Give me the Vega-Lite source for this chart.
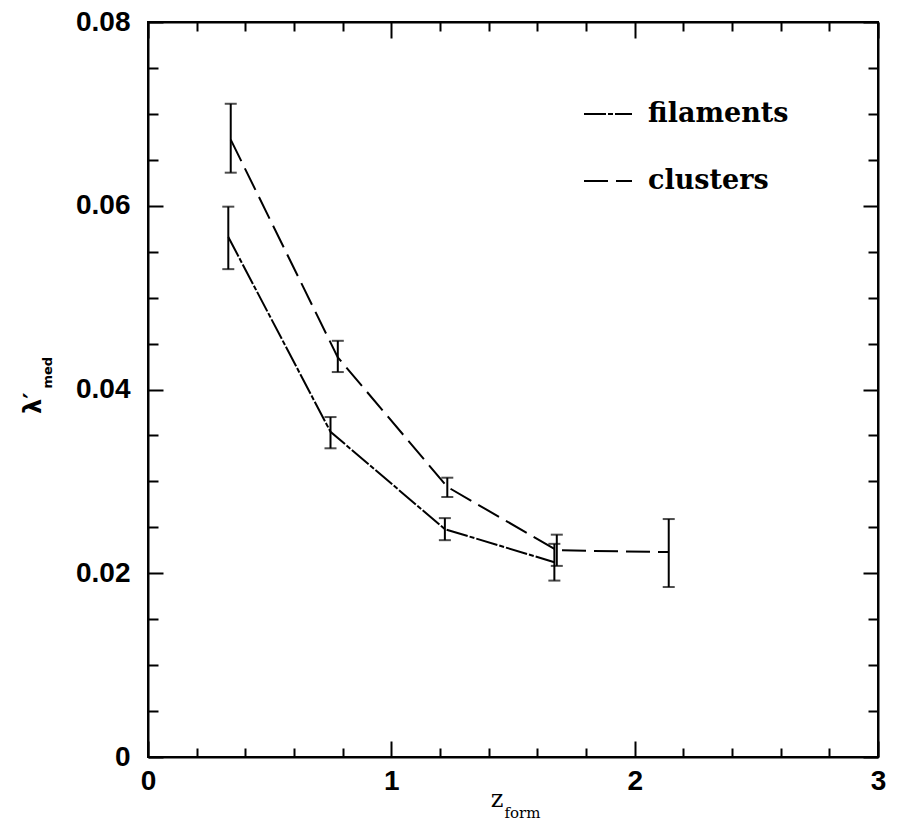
{
  "$schema": "https://vega.github.io/schema/vega-lite/v6.json",
  "autosize": {"type": "none"},
  "width": 730,
  "height": 735,
  "padding": {"left": 148, "top": 22, "right": 22, "bottom": 81},
  "background": "white",
  "config": {
    "view": {"stroke": "black", "strokeWidth": 2},
    "axis": {
      "domainColor": "black",
      "domainWidth": 2,
      "tickColor": "black",
      "tickWidth": 2,
      "labelColor": "black",
      "labelFont": "Liberation Sans",
      "labelFontWeight": "bold",
      "labelFontSize": 28,
      "labelOverlap": false,
      "labelFlush": false,
      "grid": false,
      "title": null
    },
    "legend": {
      "orient": "none",
      "legendX": 435,
      "legendY": 67,
      "symbolType": "stroke",
      "symbolSize": 2304,
      "symbolStrokeWidth": 2,
      "symbolStrokeColor": "black",
      "labelFont": "DejaVu Serif",
      "labelFontWeight": "bold",
      "labelFontSize": 27,
      "labelColor": "black",
      "labelOffset": 15,
      "rowPadding": 29,
      "title": null
    }
  },
  "datasets": {
    "pts": [
      {"series": "clusters", "z": 0.34, "lam": 0.0672, "lo": 0.0636, "hi": 0.0711},
      {"series": "clusters", "z": 0.78, "lam": 0.0435, "lo": 0.0419, "hi": 0.0453},
      {"series": "clusters", "z": 1.23, "lam": 0.0294, "lo": 0.0283, "hi": 0.0304},
      {"series": "clusters", "z": 1.68, "lam": 0.0225, "lo": 0.0208, "hi": 0.0242},
      {"series": "clusters", "z": 2.14, "lam": 0.0223, "lo": 0.0185, "hi": 0.0259},
      {"series": "filaments", "z": 0.33, "lam": 0.0566, "lo": 0.0531, "hi": 0.0599},
      {"series": "filaments", "z": 0.75, "lam": 0.0354, "lo": 0.0336, "hi": 0.037},
      {"series": "filaments", "z": 1.22, "lam": 0.0248, "lo": 0.0236, "hi": 0.026},
      {"series": "filaments", "z": 1.67, "lam": 0.0212, "lo": 0.0192, "hi": 0.0232}
    ],
    "one": [{}]
  },
  "layer": [
    {
      "data": {"name": "pts"},
      "mark": {"type": "line", "color": "black", "strokeWidth": 2},
      "encoding": {
        "x": {
          "field": "z", "type": "quantitative",
          "scale": {"domain": [0, 3], "nice": false, "zero": false},
          "axis": {
            "orient": "bottom",
            "values": [0, 0.2, 0.4, 0.6, 0.8, 1, 1.2, 1.4, 1.6, 1.8, 2, 2.2, 2.4, 2.6, 2.8, 3],
            "tickSize": {"condition": {"test": "abs(datum.value - round(datum.value)) < 1e-6", "value": -16}, "value": -9},
            "labelExpr": "abs(datum.value - round(datum.value)) < 1e-6 ? format(datum.value, 'd') : ''",
            "labelPadding": 26
          }
        },
        "y": {
          "field": "lam", "type": "quantitative",
          "scale": {"domain": [0, 0.08], "nice": false, "zero": false},
          "axis": {
            "orient": "left",
            "values": [0, 0.005, 0.01, 0.015, 0.02, 0.025, 0.03, 0.035, 0.04, 0.045, 0.05, 0.055, 0.06, 0.065, 0.07, 0.075, 0.08],
            "tickSize": {"condition": {"test": "abs(datum.value / 0.02 - round(datum.value / 0.02)) < 1e-6", "value": -15}, "value": -10},
            "labelExpr": "abs(datum.value / 0.02 - round(datum.value / 0.02)) < 1e-6 ? (datum.value < 1e-6 ? '0' : format(datum.value, '.2f')) : ''",
            "labelPadding": 33
          }
        },
        "strokeDash": {
          "field": "series", "type": "nominal",
          "scale": {"domain": ["filaments", "clusters"], "range": [[22, 2, 5, 2], [24, 8]]},
          "legend": {"symbolStrokeColor": "black"}
        },
        "order": {"field": "z", "type": "quantitative"}
      }
    },
    {
      "data": {"name": "pts"},
      "mark": {"type": "rule", "color": "black", "strokeWidth": 2},
      "encoding": {
        "x": {"field": "z", "type": "quantitative", "scale": {"domain": [0, 3], "nice": false, "zero": false}, "axis": null},
        "y": {"field": "lo", "type": "quantitative", "scale": {"domain": [0, 0.08], "nice": false, "zero": false}, "axis": null},
        "y2": {"field": "hi"}
      }
    },
    {
      "data": {"name": "pts"},
      "mark": {"type": "tick", "orient": "horizontal", "color": "black", "size": 12, "thickness": 2},
      "encoding": {
        "x": {"field": "z", "type": "quantitative", "scale": {"domain": [0, 3], "nice": false, "zero": false}, "axis": null},
        "y": {"field": "lo", "type": "quantitative", "scale": {"domain": [0, 0.08], "nice": false, "zero": false}, "axis": null}
      }
    },
    {
      "data": {"name": "pts"},
      "mark": {"type": "tick", "orient": "horizontal", "color": "black", "size": 12, "thickness": 2},
      "encoding": {
        "x": {"field": "z", "type": "quantitative", "scale": {"domain": [0, 3], "nice": false, "zero": false}, "axis": null},
        "y": {"field": "hi", "type": "quantitative", "scale": {"domain": [0, 0.08], "nice": false, "zero": false}, "axis": null}
      }
    },
    {
      "data": {"name": "one"},
      "mark": {"type": "text", "text": "z", "font": "DejaVu Serif", "fontSize": 24, "color": "black", "align": "center", "baseline": "middle", "clip": false},
      "encoding": {
        "x": {"datum": 1.435, "type": "quantitative", "scale": {"domain": [0, 3], "nice": false, "zero": false}, "axis": null},
        "y": {"datum": -0.0047, "type": "quantitative", "scale": {"domain": [0, 0.08], "nice": false, "zero": false}, "axis": null}
      }
    },
    {
      "data": {"name": "one"},
      "mark": {"type": "text", "text": "form", "font": "DejaVu Serif", "fontSize": 15, "color": "black", "align": "left", "baseline": "middle", "clip": false},
      "encoding": {
        "x": {"datum": 1.465, "type": "quantitative", "scale": {"domain": [0, 3], "nice": false, "zero": false}, "axis": null},
        "y": {"datum": -0.0061, "type": "quantitative", "scale": {"domain": [0, 0.08], "nice": false, "zero": false}, "axis": null}
      }
    },
    {
      "data": {"name": "one"},
      "mark": {"type": "text", "text": "λ′", "font": "DejaVu Sans", "fontWeight": "bold", "fontSize": 24, "color": "black", "align": "center", "baseline": "middle", "angle": 270, "clip": false},
      "encoding": {
        "x": {"datum": -0.47, "type": "quantitative", "scale": {"domain": [0, 3], "nice": false, "zero": false}, "axis": null},
        "y": {"datum": 0.0385, "type": "quantitative", "scale": {"domain": [0, 0.08], "nice": false, "zero": false}, "axis": null}
      }
    },
    {
      "data": {"name": "one"},
      "mark": {"type": "text", "text": "med", "font": "DejaVu Sans", "fontWeight": "bold", "fontSize": 13, "color": "black", "align": "left", "baseline": "middle", "angle": 270, "clip": false},
      "encoding": {
        "x": {"datum": -0.41, "type": "quantitative", "scale": {"domain": [0, 3], "nice": false, "zero": false}, "axis": null},
        "y": {"datum": 0.0401, "type": "quantitative", "scale": {"domain": [0, 0.08], "nice": false, "zero": false}, "axis": null}
      }
    },
    {
      "data": {"name": "pts"},
      "mark": {"type": "point", "opacity": 0},
      "encoding": {
        "x": {
          "field": "z", "type": "quantitative",
          "scale": {"domain": [0, 3], "nice": false, "zero": false},
          "axis": {
            "orient": "top",
            "values": [0, 0.2, 0.4, 0.6, 0.8, 1, 1.2, 1.4, 1.6, 1.8, 2, 2.2, 2.4, 2.6, 2.8, 3],
            "tickSize": {"condition": {"test": "abs(datum.value - round(datum.value)) < 1e-6", "value": -16}, "value": -9},
            "labels": false
          }
        },
        "y": {
          "field": "lam", "type": "quantitative",
          "scale": {"domain": [0, 0.08], "nice": false, "zero": false},
          "axis": {
            "orient": "right",
            "values": [0, 0.005, 0.01, 0.015, 0.02, 0.025, 0.03, 0.035, 0.04, 0.045, 0.05, 0.055, 0.06, 0.065, 0.07, 0.075, 0.08],
            "tickSize": {"condition": {"test": "abs(datum.value / 0.02 - round(datum.value / 0.02)) < 1e-6", "value": -15}, "value": -10},
            "labels": false
          }
        }
      }
    }
  ],
  "resolve": {"axis": {"x": "independent", "y": "independent"}}
}
